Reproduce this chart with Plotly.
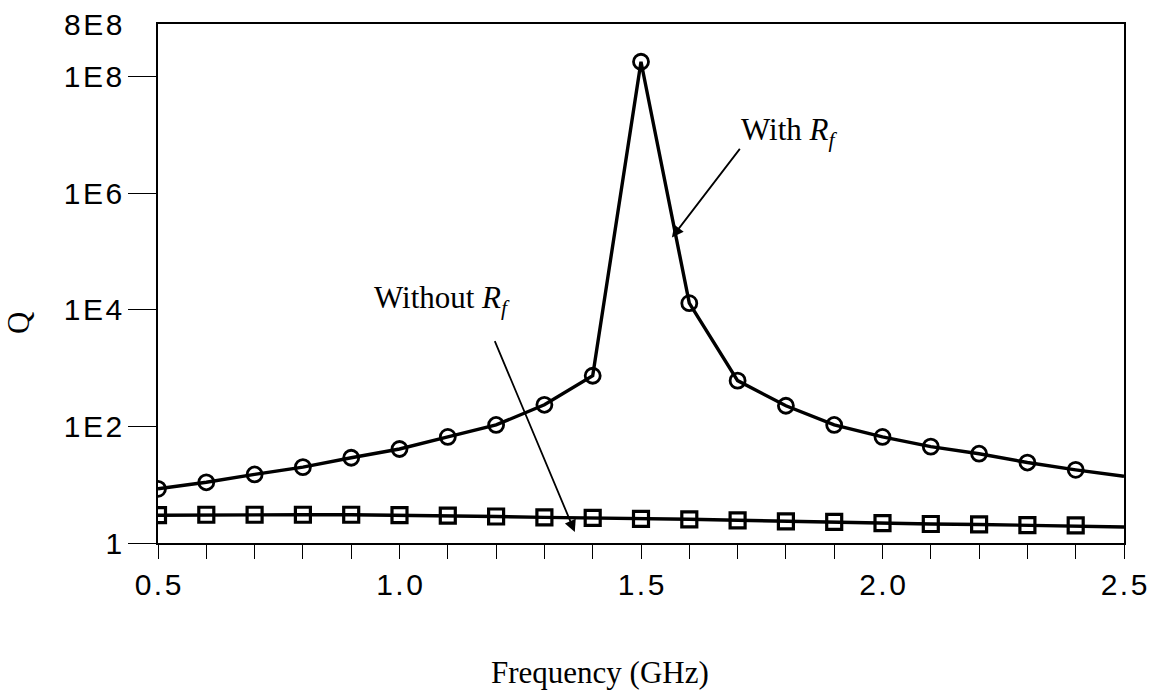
import numpy as np
import plotly.graph_objects as go

# ---- data ----
freq = [0.5, 0.6, 0.7, 0.8, 0.9, 1.0, 1.1, 1.2, 1.3, 1.4, 1.5,
        1.6, 1.7, 1.8, 1.9, 2.0, 2.1, 2.2, 2.3, 2.4, 2.5]
q_with_rf = [8.5, 11, 15, 20, 29, 41, 66, 106, 235, 740, 1.8e8,
             1.3e4, 610, 226, 106, 66, 45, 34, 24, 18, 14]
q_without_rf = [3.0, 3.05, 3.05, 3.05, 3.05, 3.0, 2.95, 2.85, 2.75, 2.7, 2.6,
                2.55, 2.45, 2.35, 2.3, 2.2, 2.12, 2.08, 2.02, 2.0, 1.88]
marker_freq_count = 20  # markers drawn at 0.5 ... 2.4 only

x_tickvals = [round(0.5 + 0.1 * i, 1) for i in range(21)]
x_major = {0.5: "0.5", 1.0: "1.0", 1.5: "1.5", 2.0: "2.0", 2.5: "2.5"}
y_tickvals = [1, 1e2, 1e4, 1e6, 1e8]
y_ticktext = ["1", "1E2", "1E4", "1E6", "1E8"]
y_top = 8e8
y_top_label = "8E8"

HS = "\u200a"


def spaced(s):
    return HS.join(list(s))


x_ticktext = [spaced(x_major[v]) if v in x_major else " " for v in x_tickvals]

tick_font = dict(family="Liberation Sans, Arial, sans-serif", size=30, color="black")
serif = "Liberation Serif, Times New Roman, serif"

fig = go.Figure()

# lines
fig.add_trace(go.Scatter(x=freq, y=q_with_rf, mode="lines",
                         line=dict(color="black", width=3.4), showlegend=False,
                         hoverinfo="skip"))
fig.add_trace(go.Scatter(x=freq, y=q_without_rf, mode="lines",
                         line=dict(color="black", width=3.4), showlegend=False,
                         hoverinfo="skip"))
# markers
fig.add_trace(go.Scatter(x=freq[:marker_freq_count], y=q_with_rf[:marker_freq_count],
                         mode="markers", showlegend=False,
                         marker=dict(symbol="circle-open", size=15, color="black",
                                     line=dict(width=2.8, color="black"))))
fig.add_trace(go.Scatter(x=freq[:marker_freq_count], y=q_without_rf[:marker_freq_count],
                         mode="markers", showlegend=False,
                         marker=dict(symbol="square-open", size=15, color="black",
                                     line=dict(width=3.2, color="black"))))

ytop_log = float(np.log10(y_top))

fig.update_layout(
    width=1160, height=695,
    margin=dict(l=158, r=36, t=24, b=152),
    plot_bgcolor="white", paper_bgcolor="white",
    xaxis=dict(range=[0.5, 2.5], tickmode="array", tickvals=x_tickvals,
               ticktext=x_ticktext, ticks="outside", ticklen=14, tickwidth=1.2,
               tickcolor="black", showline=True, linecolor="black", linewidth=1.5,
               mirror=True, showgrid=False, zeroline=False, tickfont=tick_font),
    yaxis=dict(type="log", range=[0, ytop_log], tickmode="array",
               tickvals=y_tickvals, ticktext=[spaced(t) for t in y_ticktext],
               ticks="outside", ticklen=28, tickwidth=1.2, tickcolor="black",
               showline=True, linecolor="black", linewidth=1.5, mirror=True,
               showgrid=False, zeroline=False, tickfont=tick_font),
    font=dict(family=serif, color="black"),
)

annotations = [
    dict(xref="paper", yref="y", x=0, y=ytop_log, xanchor="right", yanchor="middle",
         xshift=-34, text=spaced(y_top_label), showarrow=False, font=tick_font),
    dict(xref="paper", yref="paper", x=(600 - 158) / 966, y=-(672 - 543) / 519,
         text="Frequency (GHz)", showarrow=False, xanchor="center", yanchor="middle",
         font=dict(family=serif, size=31, color="black")),
    dict(xref="paper", yref="paper", x=-(158 - 18) / 966, y=(543 - 323) / 519,
         text="Q", showarrow=False, textangle=-90, xanchor="center", yanchor="middle",
         font=dict(family=serif, size=31, color="black")),
    dict(xref="x", yref="y", x=0.5 + (789 - 158) / 483, y=(543 - 133) / 58.2,
         text="With <i>R<sub>f</sub></i>", showarrow=False,
         font=dict(family=serif, size=31, color="black")),
    dict(xref="x", yref="y", x=0.5 + (442 - 158) / 483, y=(543 - 300) / 58.2,
         text="Without <i>R<sub>f</sub></i>", showarrow=False,
         font=dict(family=serif, size=31, color="black")),
    # arrows
    dict(xref="x", yref="y", axref="x", ayref="y",
         x=1.564, y=5.24, ax=1.707, ay=6.787, text="", showarrow=True,
         arrowhead=2, arrowsize=1.3, arrowwidth=1.8, arrowcolor="black"),
    dict(xref="x", yref="y", axref="x", ayref="y",
         x=1.363, y=0.19, ax=1.196, ay=3.49, text="", showarrow=True,
         arrowhead=2, arrowsize=1.3, arrowwidth=1.8, arrowcolor="black"),
]
fig.update_layout(annotations=annotations)

fig.write_html("out.html")
